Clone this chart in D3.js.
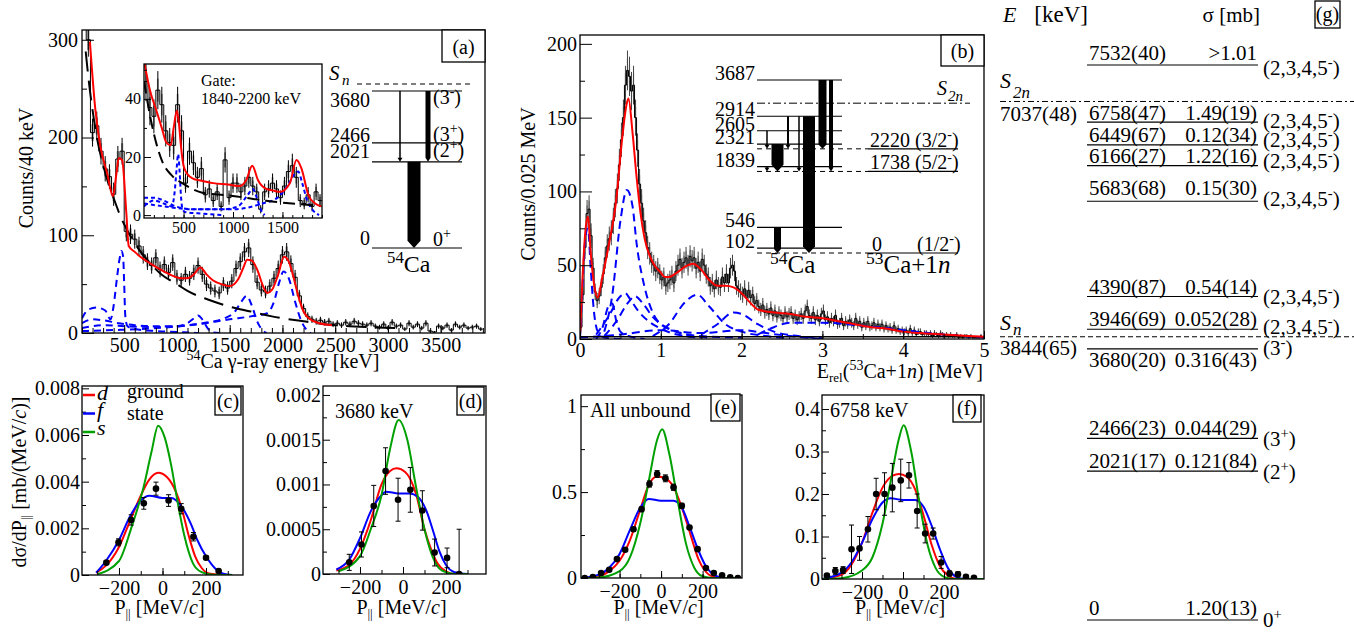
<!DOCTYPE html>
<html>
<head>
<meta charset="utf-8">
<script src="https://cdn.jsdelivr.net/npm/d3@7"></script>
<style>
body{margin:0;background:#fff;}
svg{display:block;font-family:"Liberation Serif","Times New Roman",serif;}
</style>
</head>
<body>
<svg id="fig" width="1354" height="633"></svg>
<script>
// ---- (a) gamma spectrum, 40 keV bins from 100 keV
var aBinLo = 100, aBinW = 40;
var aCounts = [330,300,205,212,186,168,160,142,178,186,104,101,96,89,80,73,69,77,65,70,
  62,72,57,54,60,56,62,69,60,50,46,43,41,50,46,53,66,73,83,87,
  70,52,44,42,48,56,66,80,83,71,57,38,25,17,14,12,13,11,12,9,
  10,8,11,9,12,10,9,8,10,7,6,9,5,11,7,8,4,10,6,9,
  5,10,2,1,7,5,8,3,9,6,8,5,6,7,4];
var aFitE = [175,226,274,337,394,425,448,480,520,543,600,653,750,843,950,1040,1100,1160,1223,1280,1340,1420,1500,1580,1630,1665,1710,1760,1820,1856,1900,1960,2015,2060,2110,2150,2200,2250,2350,2470];
var aFitC = [298,229,191,164,140,162,179,177,123,89,83,78,71,65,59,56,56,60,67,60,54,50,48,55,67,75,74,65,47,41,44,60,78,73,55,38,22,15,10,8];
var aBgE = [135,160,200,250,300,350,400,470,550,650,750,850,1000,1100,1300,1500,1700,1900,2200,2500,2800,3100];
var aBgC = [288,262,228,195,172,153,138,118,101,84,71,60,50,43,34,27,22,17,12,8,6,5];
var aCompE = [
  [100,160,240,320,370,400,430,455,475,490,500,510,530,600,800,1000,1200],
  [100,200,300,450,600,800,1000,1100,1160,1200,1240,1290,1330,1400],
  [100,300,500,800,1100,1300,1450,1550,1610,1660,1710,1760,1810,1850],
  [100,400,800,1200,1500,1700,1850,1920,1970,2010,2060,2120,2180,2240,2270]];
var aCompC = [
  [15,24,26,23,14,28,55,75,84,78,50,18,7,4,2,1,0],
  [10,14,13,10,8,7,7,10,15,18,14,5,1,0],
  [5,8,7,6,8,11,15,22,32,38,28,12,3,0],
  [2,3,5,9,14,17,20,32,52,63,56,32,12,2,0]];

// ---- (a) inset, gate 1840-2200 keV
var gateCounts = [46,37,34,43,38,29,25,24,38,29,11,22,18,13,16,7,9,5,8,3,
  19,6,11,11,8,10,13,10,8,2,8,9,11,9,6,10,15,17,13,5,4,7,3,8,5];
var gateFitE = [106,160,225,280,326,370,400,432,455,473,500,541,600,659,800,950,1066,1133,1195,1253,1337,1400,1473,1575,1642,1693,1761,1830,1897];
var gateFitC = [52,43,36,30,25,24,30,36,31,24,17,14,12.5,12,11,10.5,10,12,17,12,9,8.5,8,11,19,16,7,4,3];
var gateBgE = [100,130,174,230,290,371,507,681,998,1337,1890];
var gateBgC = [46,40,32,24,18,14,10.6,7.8,6.6,4.9,3.2];
var gateCompE = [
  [100,200,300,380,410,430,445,460,475,490,520,700,900],
  [100,200,300,420,600,900,1050,1150,1200,1240,1280,1320],
  [100,300,600,1000,1300,1450,1550,1620,1660,1700,1750,1800,1870]];
var gateCompC = [
  [3,5,4,3,8,16,21,15,6,2,1,0.5,0],
  [6,6,5,3,2,2,3,7,9,6,2,0],
  [4,3,2,2,4,6,10,14,15,11,5,2,0]];

// ---- (a) level scheme of 54Ca
var aLevels = [0, 2021, 2466, 3680];
var aLevelNames = ["0", "2021", "2466", "3680"];
var aSpins = [["0","+",""], ["(2","+",")"], ["(3","+",")"], ["(3","-",")"]];
var aSn = 3844;
var aTrans = [[3680,2021],[3680,2021],[2021,0]];

// ---- (b) relative energy spectrum, 0.025 MeV bins
var bBinW = 0.025;
var bCounts = [8,30,62,85, 88,70,48,32, 26,29,35,44, 55,63,68,72, 80,92,102,118,
  135,150,172,182, 178,168,172,150, 128,105,92,80, 72,62,58,52, 50,46,48,44,
  40,42,36,38, 40,43,38,46, 50,54,48,52, 55,50,56,53, 55,48,52,46,
  54,50,44,42, 36,38,34,40, 36,35,42,38, 44,38,48,50, 46,36,34,32,
  30,34,28,33, 28,30,24,26, 22,20,23,18, 20,17,21,16, 19,15,18,16,
  14,18,15,17, 18,14,16,13, 15,17,14,19, 22,16,14,18, 13,16,12,17,
  19,13,15,11, 14,12,16,10, 11,14,9,12, 10,13,11,9, 14,10,12,8,
  11,9,12,8, 9,11,8,10, 8,10,7,9, 7,8,6,9, 6,7,5,6,
  5,6,4,7, 4,6,3,5, 5,3,4,4, 3,4,2,4, 3,2,4,3,
  2,3,2,3, 2,2,3,1, 2,1,2,2, 1,2,1,1, 1,1,2,1];
var bFitE = [0,0.03,0.07,0.1,0.13,0.18,0.22,0.27,0.35,0.45,0.52,0.58,0.6,0.65,0.7,0.75,0.8,0.9,1.0,1.05,1.1,1.2,1.3,1.4,1.5,1.6,1.7,1.8,1.9,2.0,2.1,2.2,2.4,2.6,2.8,3.0,3.2,3.4,3.6,3.8,4.0,4.2,4.5,4.8,5.0];
var bFitC = [2,40,75,83,60,35,28,40,62,95,135,160,163,140,110,85,68,52,45,42,42,45,49,51,47,40,36,36,35,31,25,20,18,17,15,14,12,10,8,7,5,4,3,2,1.5];
var bCompE = [
  [0,0.03,0.07,0.1,0.13,0.17,0.22,0.3,0.5],
  [0.2,0.28,0.35,0.4,0.45,0.5,0.6,0.8],
  [0.3,0.4,0.5,0.58,0.65,0.7,0.8,0.9,1.0,1.2,1.5,2.0],
  [0.2,0.35,0.5,0.56,0.62,0.72,0.85,1.0,1.2,1.5],
  [0.3,0.45,0.6,0.68,0.78,0.9,1.1,1.3,1.6],
  [0.9,1.1,1.3,1.45,1.6,1.8,2.0,2.3,2.6],
  [1.5,1.7,1.9,2.0,2.2,2.4,2.7,3.0],
  [2.2,2.4,2.6,2.8,3.0,3.5,4.0,4.5,5.0],
  [0,0.5,1.0,1.5,2.0,2.3,2.6,3.0]];
var bCompC = [
  [0,35,70,75,50,20,5,1,0],
  [0,8,22,24,12,5,2,0],
  [5,30,80,101,90,65,35,18,10,5,2,1],
  [3,15,29,31,27,19,12,7,3,1],
  [2,12,25,29,24,15,7,3,1],
  [2,10,25,30,22,10,5,2,0.5],
  [3,10,18,17,10,5,2,0.5],
  [3,8,11,11,11,9,6,3,1],
  [1,3,6,4,6,4,2,0]];
var bFloorE = [0, 5], bFloorC = [1.5, 1.5];

// ---- (b) level scheme (relative energies, keV)
var bCaLevels = [102, 546, 1839, 2321, 2605, 2914, 3687];
var bCa53Levels = [0, 1738, 2220];
var bCa53Spins = ["1/2", "5/2", "3/2"];
var bS2n = 3193;
var bTrans = [[2605,2220],[1839,1738],[2321,1738],[546,0],[2914,2220],[2914,1738],[2914,0],[3687,2220],[3687,1738]];

// ---- (c) ground state momentum distribution
var cP = [-258,-202,-144,-86,-30,28,86,142,200,258];
var cV = [0.00053,0.00140,0.00236,0.00307,0.00370,0.00319,0.00284,0.00164,0.00074,0.00017];
var cErr = [0.00008,0.00015,0.00022,0.00025,0.00028,0.00025,0.00022,0.00018,0.00008,0.00006];
var cDp = [-305,-260,-200,-150,-100,-60,-20,20,60,90,120,150,180,220,280,320];
var cDv = [0.0001,0.0004,0.0012,0.0023,0.0034,0.0041,0.00438,0.0042,0.0036,0.0028,0.0017,0.0008,0.0003,0.00005,0,0];
var cFp = [-305,-260,-200,-150,-100,-60,0,40,90,130,160,200,240,280,320];
var cFv = [0.0001,0.0006,0.0015,0.0025,0.0032,0.0034,0.0033,0.0033,0.0029,0.0022,0.0015,0.0008,0.0003,0.00005,0];
var cSp = [-300,-200,-144,-86,-50,-20,10,40,70,100,140,180,230,320];
var cSv = [0.00003,0.0006,0.0020,0.0038,0.0053,0.0064,0.0059,0.0047,0.0031,0.0017,0.0005,0.00012,0.00001,0];

// ---- (d) 3680 keV
var dP = [-250,-193,-136,-81,-23,34,90,147,205,261];
var dV = [0.00013,0.00033,0.00076,0.00115,0.00083,0.00094,0.00071,0.00024,0.00018,0];
var dErr = [0.00009,0.00014,0.00023,0.00026,0.00024,0.00025,0.00022,0.00015,0.00011,0.0005];
var dDp = [-310,-250,-200,-150,-100,-60,-30,10,60,100,130,160,200,240,300];
var dDv = [0.00004,0.0001,0.00028,0.0006,0.001,0.00115,0.00118,0.00114,0.0009,0.0005,0.00028,0.00012,0.00003,0,0];
var dFp = [-310,-250,-200,-150,-100,-80,-20,30,70,110,140,170,200,240,300];
var dFv = [0.00005,0.00016,0.0004,0.0007,0.00088,0.00092,0.0009,0.0009,0.00086,0.0007,0.00048,0.00025,0.0001,0.00002,0];
var dSp = [-300,-200,-150,-100,-60,-20,20,60,100,140,180,240,300];
var dSv = [0.00003,0.0002,0.0005,0.00088,0.0014,0.00172,0.0015,0.00098,0.0005,0.00018,0.00004,0,0];

// ---- (e) all unbound
var eP = [-368,-329,-289,-250,-213,-173,-133,-94,-56,-19,21,60,100,137,176,216,254,294,333,370];
var eV = [0,0.006,0.029,0.048,0.11,0.164,0.284,0.4,0.547,0.605,0.58,0.528,0.42,0.294,0.168,0.058,0.029,0.015,0.004,0];
var eErr = [0.003,0.003,0.005,0.006,0.008,0.01,0.012,0.014,0.018,0.02,0.02,0.018,0.015,0.012,0.01,0.007,0.005,0.004,0.003,0.003];
var eDp = [-386,-300,-250,-200,-150,-100,-60,-20,20,60,100,140,180,210,250,300,390];
var eDv = [0,0.01,0.04,0.1,0.22,0.4,0.54,0.59,0.58,0.53,0.41,0.26,0.11,0.045,0.008,0,0];
var eFp = [-386,-300,-250,-200,-150,-100,-60,0,60,100,140,180,220,260,300,390];
var eFv = [0,0.02,0.06,0.14,0.28,0.41,0.46,0.45,0.45,0.41,0.29,0.16,0.06,0.015,0,0];
var eSp = [-386,-300,-200,-150,-100,-60,-20,5,40,80,120,160,200,250,390];
var eSv = [0,0.003,0.04,0.12,0.32,0.56,0.8,0.865,0.72,0.45,0.2,0.06,0.01,0,0];

// ---- (f) 6758 keV
var fP = [-371,-330,-292,-251,-212,-171,-131,-90,-52,-11,29,69,108,147,186,227,268,307,346];
var fV = [0.008,0.019,0.021,0.07,0.072,0.117,0.2,0.2,0.215,0.232,0.244,0.16,0.107,0.107,0.039,0.013,0.011,0.005,0.003];
var fErr = [0.004,0.008,0.008,0.057,0.028,0.03,0.037,0.05,0.057,0.05,0.03,0.04,0.022,0.013,0.014,0.006,0.006,0.004,0.003];
var fDp = [-395,-300,-250,-200,-150,-100,-50,-20,20,60,100,140,180,220,260,395];
var fDv = [0,0.01,0.035,0.085,0.155,0.215,0.243,0.247,0.24,0.21,0.15,0.08,0.03,0.008,0,0];
var fFp = [-395,-300,-250,-200,-150,-100,-60,0,60,100,140,180,220,260,300,395];
var fFv = [0,0.015,0.04,0.085,0.14,0.18,0.19,0.186,0.186,0.17,0.125,0.07,0.025,0.005,0,0];
var fSp = [-395,-300,-200,-150,-100,-60,-20,3,40,80,120,160,200,250,395];
var fSv = [0,0.002,0.02,0.05,0.13,0.23,0.33,0.362,0.3,0.18,0.08,0.025,0.005,0,0];

// ---- (g) level scheme with cross sections
var gE = [7532,6758,6449,6166,5683,4390,3946,3680,2466,2021,0];
var gELabel = ["7532(40)","6758(47)","6449(67)","6166(27)","5683(68)","4390(87)","3946(69)","3680(20)","2466(23)","2021(17)","0"];
var gSigma = [">1.01","1.49(19)","0.12(34)","1.22(16)","0.15(30)","0.54(14)","0.052(28)","0.316(43)","0.044(29)","0.121(84)","1.20(13)"];
var gSpin = [["(2,3,4,5","-",")"],["(2,3,4,5","-",")"],["(2,3,4,5","-",")"],["(2,3,4,5","-",")"],["(2,3,4,5","-",")"],
  ["(2,3,4,5","-",")"],["(2,3,4,5","-",")"],["(3","-",")"],["(3","+",")"],["(2","+",")"],["0","+",""]];
var gS2n = 7037, gS2nLabel = "7037(48)";
var gSn = 3844, gSnLabel = "3844(65)";

// ================= drawing =================
var svg = d3.select("#fig");
var RED = "#ff0000", BLUE = "#0000ff", GREEN = "#00a000";
var clipN = 0;

function rich(g, x, y, parts, size, anchor, rot) {
  var t = g.append("text").attr("x", x).attr("y", y).attr("font-size", size)
    .attr("text-anchor", anchor || "start").attr("fill", "#000");
  if (rot) t.attr("transform", "rotate(-90," + x + "," + y + ")");
  var shift = 0;
  parts.forEach(function (p) {
    if (typeof p === "string") p = [p, ""];
    var k = p[1], fs = size, target = 0;
    if (k.indexOf("sup") >= 0) { fs = size * 0.7; target = -size * 0.38; }
    if (k.indexOf("sub") >= 0) { fs = size * 0.65; target = size * 0.2; }
    var ts = t.append("tspan").text(p[0]).attr("font-size", fs);
    if (k.indexOf("it") >= 0) ts.attr("font-style", "italic");
    if (target !== shift) { ts.attr("dy", target - shift); shift = target; }
  });
  return t;
}

function panel(box, xd, yd) {
  var x = d3.scaleLinear().domain(xd).range([box[0], box[1]]);
  var y = d3.scaleLinear().domain(yd).range([box[3], box[2]]);
  var g = svg.append("g");
  var id = "clip" + (clipN++);
  g.append("clipPath").attr("id", id).append("rect")
    .attr("x", box[0]).attr("y", box[2]).attr("width", box[1] - box[0]).attr("height", box[3] - box[2]);
  g.append("rect").attr("x", box[0]).attr("y", box[2]).attr("width", box[1] - box[0])
    .attr("height", box[3] - box[2]).attr("fill", "#fff");
  var plot = g.append("g").attr("clip-path", "url(#" + id + ")");
  return { g: g, plot: plot, x: x, y: y, box: box };
}

function frame(p) {
  var b = p.box;
  p.g.append("rect").attr("x", b[0]).attr("y", b[2]).attr("width", b[1] - b[0])
    .attr("height", b[3] - b[2]).attr("fill", "none").attr("stroke", "#000").attr("stroke-width", 1.3);
}

function tidy(sel, fs) {
  sel.select(".domain").remove();
  sel.attr("font-family", null).attr("font-size", null);
  sel.selectAll("text").attr("font-size", fs).attr("fill", "#000");
  sel.selectAll("line").attr("stroke", "#000").attr("stroke-width", 1);
}

function axes(p, o) {
  var b = p.box;
  p.g.append("g").attr("transform", "translate(0," + b[3] + ")")
    .call(d3.axisBottom(p.x).tickValues(o.xMinor).tickSize(-o.minLen).tickFormat(""))
    .call(tidy, o.fs);
  p.g.append("g").attr("transform", "translate(0," + b[3] + ")")
    .call(d3.axisBottom(p.x).tickValues(o.xMajor).tickSize(-o.xLen).tickPadding(o.xPad).tickFormat(o.xFmt))
    .call(tidy, o.fs);
  p.g.append("g").attr("transform", "translate(" + b[0] + ",0)")
    .call(d3.axisLeft(p.y).tickValues(o.yMinor).tickSize(-o.minLen).tickFormat(""))
    .call(tidy, o.fs);
  p.g.append("g").attr("transform", "translate(" + b[0] + ",0)")
    .call(d3.axisLeft(p.y).tickValues(o.yMajor).tickSize(-o.yLen).tickPadding(o.yPad).tickFormat(o.yFmt))
    .call(tidy, o.fs);
}

function labelBox(x0, x1, y0, y1, txt) {
  svg.append("rect").attr("x", x0).attr("y", y0).attr("width", x1 - x0).attr("height", y1 - y0)
    .attr("fill", "#fff").attr("stroke", "#000").attr("stroke-width", 1.3);
  svg.append("text").attr("x", (x0 + x1) / 2).attr("y", y1 - 0.28 * (y1 - y0) + 1).attr("text-anchor", "middle")
    .attr("font-size", 20).text(txt);
}

function curve(p, xs, ys, color, width, dash) {
  var pts = xs.map(function (v, i) { return [v, ys[i]]; });
  var path = p.plot.append("path")
    .attr("d", d3.line().x(function (d) { return p.x(d[0]); }).y(function (d) { return p.y(d[1]); })
      .curve(d3.curveMonotoneX)(pts))
    .attr("fill", "none").attr("stroke", color).attr("stroke-width", width);
  if (dash) path.attr("stroke-dasharray", dash);
}

function hist(p, lo, w, counts, ew, barColor) {
  counts.forEach(function (c, i) {
    var e = Math.sqrt(c), xc = p.x(lo + (i + 0.5) * w);
    p.plot.append("rect").attr("x", xc - ew / 2).attr("width", ew)
      .attr("y", p.y(c + e * 0.6)).attr("height", p.y(c - e * 0.6) - p.y(c + e * 0.6))
      .attr("fill", "#8a8a8a");
    p.plot.append("line").attr("x1", xc).attr("x2", xc).attr("y1", p.y(c + e)).attr("y2", p.y(Math.max(c - e, 0)))
      .attr("stroke", barColor).attr("stroke-width", 1);
  });
  var pts = [];
  counts.forEach(function (c, i) { pts.push([lo + i * w, c]); pts.push([lo + (i + 1) * w, c]); });
  p.plot.append("path")
    .attr("d", d3.line().x(function (d) { return p.x(d[0]); }).y(function (d) { return p.y(d[1]); })(pts))
    .attr("fill", "none").attr("stroke", "#000").attr("stroke-width", 1);
}

function arrow(g, x, yTop, yBot, w) {
  var hw = w / 2, hh = Math.max(hw, 2.5), h = Math.max(hh * 1.1, 4);
  var pts = [[x - hw, yTop], [x + hw, yTop], [x + hw, yBot - h], [x + hh, yBot - h], [x, yBot],
    [x - hh, yBot - h], [x - hw, yBot - h]];
  g.append("path").attr("d", d3.line()(pts) + "Z").attr("fill", "#000");
}

var fmtInt = d3.format("d");

// ---------- panel (a)
var A = panel([82, 485, 30, 333], [100, 3920], [0, 310]);
hist(A, aBinLo, aBinW, aCounts, 2.2, "#000");
aCompE.forEach(function (xs, i) { curve(A, xs, aCompC[i], BLUE, 2, "7,5"); });
curve(A, aBgE, aBgC, "#000", 2, "20,9");
curve(A, aFitE, aFitC, RED, 2);
axes(A, { fs: 20, xMajor: d3.range(500, 3501, 500), xMinor: d3.range(100, 3901, 100), xLen: 8, minLen: 5,
  xPad: 5, xFmt: fmtInt, yMajor: [0, 100, 200, 300], yMinor: [50, 150, 250], yLen: 12, yPad: 4, yFmt: fmtInt });
frame(A);
rich(svg, 33, 168, ["Counts/40 keV"], 20, "middle", true);
rich(svg, 283, 368, [["54", "sup"], "Ca γ-ray energy [keV]"], 20, "middle");

// inset
var I = panel([144, 322, 64, 218], [100, 1900], [-1, 52]);
hist(I, aBinLo, aBinW, gateCounts, 1.8, "#000");
gateCompE.forEach(function (xs, i) { curve(I, xs, gateCompC[i], BLUE, 2, "4,3"); });
curve(I, gateBgE, gateBgC, "#000", 2, "12,6");
curve(I, gateFitE, gateFitC, RED, 2);
axes(I, { fs: 16, xMajor: [500, 1000, 1500], xMinor: d3.range(200, 1901, 100), xLen: 6, minLen: 3,
  xPad: 4, xFmt: fmtInt, yMajor: [0, 20, 40], yMinor: [10, 30, 50], yLen: 7, yPad: 3, yFmt: fmtInt });
frame(I);
I.g.append("text").attr("x", 201).attr("y", 86).attr("font-size", 16).text("Gate:");
I.g.append("text").attr("x", 201).attr("y", 104).attr("font-size", 16).text("1840-2200 keV");

// level scheme (a)
var aLy = d3.scaleLinear().domain([0, 3680]).range([248, 91]);
var aLabelDy = [-3, -4, -1, 16], aSpinDy = [-2, -5, -2, 13];
var aTransX = [400, 428, 414], aTransW = [1.5, 5, 13];
var LS = svg.append("g");
LS.append("line").attr("x1", 357).attr("x2", 472).attr("y1", aLy(aSn)).attr("y2", aLy(aSn))
  .attr("stroke", "#000").attr("stroke-dasharray", "5,4");
rich(LS, 329, 80, [["S", "it"]], 21);
rich(LS, 342, 85, [["n", "it"]], 15);
aLevels.forEach(function (e, i) {
  LS.append("line").attr("x1", 372).attr("x2", 462).attr("y1", aLy(e)).attr("y2", aLy(e))
    .attr("stroke", "#000").attr("stroke-width", 1.2);
  rich(LS, 370, aLy(e) + aLabelDy[i], [aLevelNames[i]], 20, "end");
  rich(LS, 433, aLy(e) + aSpinDy[i], [aSpins[i][0], [aSpins[i][1], "sup"], aSpins[i][2]], 20);
});
aTrans.forEach(function (t, i) { arrow(LS, aTransX[i], aLy(t[0]), aLy(t[1]), aTransW[i]); });
rich(LS, 387, 272, [["54", "sup"], "Ca"], 24);
labelBox(442, 485, 30, 62, "(a)");

// ---------- panel (b)
var B = panel([580, 984, 35, 339], [0, 5], [0, 206]);
hist(B, 0, bBinW, bCounts, 1.2, "#444");
bCompE.forEach(function (xs, i) { curve(B, xs, bCompC[i], BLUE, 2, "8,5"); });
curve(B, bFloorE, bFloorC, "#000", 1.5);
curve(B, bFitE, bFitC, RED, 2);
axes(B, { fs: 20, xMajor: [0, 1, 2, 3, 4, 5], xMinor: d3.range(0, 5.01, 0.5), xLen: 8, minLen: 5,
  xPad: 4, xFmt: fmtInt, yMajor: [0, 50, 100, 150, 200], yMinor: [25, 75, 125, 175], yLen: 12, yPad: 3, yFmt: fmtInt });
frame(B);
rich(svg, 535, 184, ["Counts/0.025 MeV"], 20, "middle", true);
rich(svg, 983, 378, ["E", ["rel", "sub"], "(", ["53", "sup"], "Ca+1", ["n", "it"], ") [MeV]"], 20, "end");

// level scheme (b)
var bLy = d3.scaleLinear().domain([0, 3687]).range([253, 80]);
var bTransX = [767, 767, 777.5, 777.5, 788, 799, 809, 822.5, 831];
var bTransW = [1.5, 1.5, 12, 7, 2, 1.5, 12, 8, 4];
var LB = svg.append("g");
LB.append("line").attr("x1", 757).attr("x2", 970).attr("y1", bLy(bS2n)).attr("y2", bLy(bS2n))
  .attr("stroke", "#000").attr("stroke-dasharray", "8,3,2,3");
rich(LB, 937, 95, [["S", "it"]], 20);
rich(LB, 948, 101, [["2n", "it"]], 15);
bCaLevels.forEach(function (e) {
  LB.append("line").attr("x1", 757).attr("x2", 842).attr("y1", bLy(e)).attr("y2", bLy(e))
    .attr("stroke", "#000").attr("stroke-width", 1.2);
  rich(LB, 755, bLy(e), [String(e)], 20, "end");
});
bCa53Levels.forEach(function (e, i) {
  LB.append("line").attr("x1", 757).attr("x2", 868).attr("y1", bLy(e)).attr("y2", bLy(e))
    .attr("stroke", "#000").attr("stroke-dasharray", "5,4");
  LB.append("line").attr("x1", 868).attr("x2", 958).attr("y1", bLy(e)).attr("y2", bLy(e))
    .attr("stroke", "#000").attr("stroke-width", 1.2);
  if (e === 0) {
    rich(LB, 872, bLy(e) - 2, ["0"], 20);
    rich(LB, 917, bLy(e) - 2, ["(" + bCa53Spins[i], ["-", "sup"], ")"], 20);
  } else {
    rich(LB, 870, bLy(e) - 2, [e + " (" + bCa53Spins[i], ["-", "sup"], ")"], 20);
  }
});
bTrans.forEach(function (t, i) { arrow(LB, bTransX[i], bLy(t[0]), bLy(t[1]), bTransW[i]); });
rich(LB, 770, 273, [["54", "sup"], "Ca"], 25);
rich(LB, 866, 273, [["53", "sup"], "Ca+1", ["n", "it"]], 25);
labelBox(941, 984, 35, 66, "(b)");

// ---------- momentum panels (c)-(f)
function momentum(box, xd, yd, pts, vals, errs, curves, yMajor, yMinor, yFmt, yPad) {
  var p = panel(box, xd, yd);
  curve(p, curves[0][0], curves[0][1], RED, 2);
  curve(p, curves[1][0], curves[1][1], BLUE, 2);
  curve(p, curves[2][0], curves[2][1], GREEN, 2);
  pts.forEach(function (v, i) {
    var xc = p.x(v), y1 = p.y(vals[i] + errs[i]), y2 = p.y(Math.max(vals[i] - errs[i], 0));
    p.plot.append("line").attr("x1", xc).attr("x2", xc).attr("y1", y1).attr("y2", y2)
      .attr("stroke", "#000").attr("stroke-width", 1);
    [y1, y2].forEach(function (yy) {
      p.plot.append("line").attr("x1", xc - 2.5).attr("x2", xc + 2.5).attr("y1", yy).attr("y2", yy)
        .attr("stroke", "#000").attr("stroke-width", 1);
    });
    p.plot.append("circle").attr("cx", xc).attr("cy", p.y(vals[i])).attr("r", 3.3).attr("fill", "#000");
  });
  axes(p, { fs: 20, xMajor: [-200, 0, 200], xMinor: d3.range(-300, 301, 100), xLen: 7, minLen: 4,
    xPad: 6, xFmt: fmtInt, yMajor: yMajor, yMinor: yMinor, yLen: 7, yPad: yPad, yFmt: yFmt });
  frame(p);
  var cx = (box[0] + box[1]) / 2 - 3;
  rich(svg, cx, 614, ["P", ["||", "sub"], " [MeV/", ["c", "it"], "]"], 20, "middle");
  return p;
}
var fmtStr = function (v) { return String(v); };

momentum([82, 243, 386, 575], [-370, 370], [0, 0.0081], cP, cV, cErr,
  [[cDp, cDv], [cFp, cFv], [cSp, cSv]], [0, 0.002, 0.004, 0.006, 0.008], [0.001, 0.003, 0.005, 0.007], fmtStr, 2);
momentum([323, 486, 386, 574], [-372, 386], [0, 0.0021], dP, dV, dErr,
  [[dDp, dDv], [dFp, dFv], [dSp, dSv]], [0, 0.0005, 0.001, 0.0015, 0.002], [0.00025, 0.00075, 0.00125, 0.00175], fmtStr, 2);
momentum([581, 742, 395, 578], [-386, 390], [0, 1.065], eP, eV, eErr,
  [[eDp, eDv], [eFp, eFv], [eSp, eSv]], [0, 0.5, 1], [0.25, 0.75], fmtStr, 4);
momentum([822, 984, 395, 579], [-395, 395], [0, 0.433], fP, fV, fErr,
  [[fDp, fDv], [fFp, fFv], [fSp, fSv]], [0, 0.1, 0.2, 0.3, 0.4], [0.05, 0.15, 0.25, 0.35], fmtStr, 2);

rich(svg, 26, 482, ["dσ/dP", ["||", "sub"], " [mb/(MeV/", ["c", "it"], ")]"], 20, "middle", true);
// legend (c)
[[RED, "d", 400], [BLUE, "f", 417], [GREEN, "s", 435]].forEach(function (l, i) {
  svg.append("line").attr("x1", 83).attr("x2", 95).attr("y1", 395 + i * 18.5).attr("y2", 395 + i * 18.5)
    .attr("stroke", l[0]).attr("stroke-width", 2.5);
  rich(svg, 97, l[2], [[l[1], "it"]], 22);
});
rich(svg, 127, 398, ["ground"], 20);
rich(svg, 127, 420, ["state"], 20);
rich(svg, 335, 418, ["3680 keV"], 20);
rich(svg, 590, 417, ["All unbound"], 20);
rich(svg, 830, 417, ["6758 keV"], 20);
labelBox(215, 241, 387, 415, "(c)");
labelBox(457, 484, 387, 415, "(d)");
labelBox(711, 740, 394, 421, "(e)");
labelBox(953, 981, 395, 422, "(f)");

// ---------- panel (g)
var gy = d3.scaleLinear().domain([0, 7532]).range([620, 65]);
var gTextDy = [-5, -2, -3, -3, -6, -3, -3, 18, -3, -3, -5];
var gSpinDy = [10, 6, 2, 2, 5, 7, 5, 6, 8, 8, 7];
var G = svg.append("g");
rich(G, 1003, 22, [["E", "it"]], 22);
rich(G, 1088, 22, ["[keV]"], 23, "end");
rich(G, 1260, 22, ["σ [mb]"], 21, "end");
G.append("line").attr("x1", 1000).attr("x2", 1354).attr("y1", gy(gS2n)).attr("y2", gy(gS2n))
  .attr("stroke", "#000").attr("stroke-dasharray", "6,3,2,3");
G.append("line").attr("x1", 1000).attr("x2", 1354).attr("y1", gy(gSn)).attr("y2", gy(gSn))
  .attr("stroke", "#000").attr("stroke-dasharray", "5,3");
rich(G, 1000, 88, [["S", "it"]], 22);
rich(G, 1013, 98, [["2n", "it"]], 17);
rich(G, 1000, 330, [["S", "it"]], 22);
rich(G, 1013, 335, [["n", "it"]], 17);
rich(G, 1000, 121, [gS2nLabel], 21);
rich(G, 1000, 355, [gSnLabel], 21);
gE.forEach(function (e, i) {
  var yy = gy(e);
  G.append("line").attr("x1", 1087).attr("x2", 1258).attr("y1", yy).attr("y2", yy)
    .attr("stroke", "#000").attr("stroke-width", 1.2);
  rich(G, 1089, yy + gTextDy[i], [gELabel[i]], 21);
  rich(G, 1257, yy + gTextDy[i], [gSigma[i]], 21, "end");
  rich(G, 1263, yy + gSpinDy[i], [gSpin[i][0], [gSpin[i][1], "sup"], gSpin[i][2]], 21);
});
labelBox(1315, 1340, 1, 28, "(g)");
</script>
</body>
</html>
